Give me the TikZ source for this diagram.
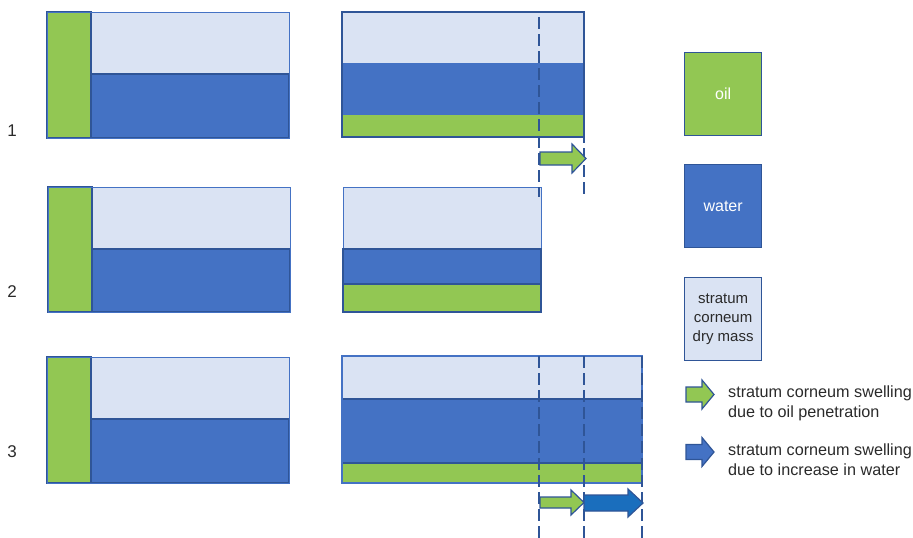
\documentclass[tikz,border=0pt]{standalone}
\usepackage{fontspec}
\setmainfont{Liberation Sans}
\definecolor{oilgreen}{HTML}{92C753}
\definecolor{waterblue}{HTML}{4472C4}
\definecolor{dryblue}{HTML}{DAE3F3}
\definecolor{edgeblue}{HTML}{2F5597}
\definecolor{brightblue}{HTML}{1A6EBD}
\definecolor{txtgray}{HTML}{2A2A2A}
\newcommand{\blockarrow}[8]{% name, x0, headbase, tip, yc, shafthalf, headhalf, color
  \draw[arrowline, fill=#8] (#2,#5-#6) -- (#3,#5-#6) -- (#3,#5-#7) -- (#4,#5) -- (#3,#5+#7) -- (#3,#5+#6) -- (#2,#5+#6) -- cycle;
  \coordinate (#1) at (#4,#5);}
\begin{document}
\begin{tikzpicture}[x=1pt,y=-1pt,
  blk/.style={draw=edgeblue, line width=1.3pt},
  oilblk/.style={blk, fill=oilgreen},
  waterblk/.style={blk, fill=waterblue},
  dryblk/.style={draw=waterblue, line width=1pt, fill=dryblue},
  dashline/.style={draw=edgeblue, line width=1.4pt, dash pattern=on 12pt off 5pt},
  arrowline/.style={draw=edgeblue, line width=1.2pt, line join=miter},
  num/.style={font=\fontsize{17}{20}\selectfont, text=txtgray},
  legbox/.style={draw=edgeblue, line width=1.3pt, minimum width=77pt, minimum height=83pt, inner sep=0pt, anchor=north west, align=center},
  legtext/.style={font=\fontsize{16.2}{20}\selectfont, text=txtgray, anchor=west, align=left, inner sep=0pt}
]
\useasboundingbox (0,0) rectangle (913,538);

% ---------- left panels ----------
% row 1
\draw[dryblk] (91,12) rectangle (289,74);
\draw[waterblk] (91,74) rectangle (289,138);
\draw[oilblk] (47,12) rectangle (91,138);
\draw[draw=waterblue, line width=1pt] (47,12) rectangle (289,138);
% row 2
\draw[dryblk] (92,187) rectangle (290,249);
\draw[waterblk] (92,249) rectangle (290,312);
\draw[oilblk] (48,187) rectangle (92,312);
\draw[draw=waterblue, line width=1pt] (48,187) rectangle (290,312);
% row 3
\draw[dryblk] (91,357) rectangle (289,419);
\draw[waterblk] (91,419) rectangle (289,483);
\draw[oilblk] (47,357) rectangle (91,483);
\draw[draw=waterblue, line width=1pt] (47,357) rectangle (289,483);

% ---------- numbers ----------
\node[num] (n1) at (12,131) {1};
\node[num] (n2) at (12,292) {2};
\node[num] (n3) at (12,452) {3};

% ---------- right panels ----------
% row 1
\fill[dryblue] (342,12) rectangle (584,63);
\fill[waterblue] (342,63) rectangle (584,115);
\fill[oilgreen] (342,115) rectangle (584,137);
\draw[blk] (342,12) rectangle (584,137);
% row 2
\draw[dryblk] (343,187) rectangle (541,249);
\draw[waterblk] (343,249) rectangle (541,284);
\draw[oilblk] (343,284) rectangle (541,312);
% row 3
\fill[dryblue] (342,356) rectangle (642,399);
\draw[waterblk] (342,399) rectangle (642,463);
\draw[oilblk] (342,463) rectangle (642,483);
\draw[draw=waterblue, line width=1.2pt] (342,356) rectangle (642,483);

% ---------- dashed guides ----------
\draw[dashline] (539,17) -- (539,197);
\draw[dashline] (584,12) -- (584,197);
\draw[dashline] (539,356) -- (539,538);
\draw[dashline] (584,356) -- (584,538);
\draw[dashline] (642,356) -- (642,538);

% ---------- swelling arrows ----------
\blockarrow{a1}{540}{572}{586}{158.5}{6.5}{14.5}{oilgreen}
\blockarrow{a3g}{540}{571}{584}{502.5}{5.5}{12.5}{oilgreen}
\blockarrow{a3b}{584}{628}{643}{503}{8}{14}{brightblue}

% ---------- legend ----------
\node[legbox, fill=oilgreen, text=white, font=\fontsize{16}{20}\selectfont] (oil) at (684,52) {oil};
\node[legbox, fill=waterblue, text=white, font=\fontsize{16}{20}\selectfont] (water) at (684,164) {water};
\node[legbox, fill=dryblue, text=txtgray, font=\fontsize{15}{19}\selectfont] (dry) at (684,277) {stratum\\corneum\\dry mass};

\blockarrow{lg}{686}{702}{714}{394.5}{7.5}{14.5}{oilgreen}
\blockarrow{lb}{686}{702}{714}{452}{7.5}{14.5}{waterblue}
\node[legtext] (tg) at (728,403) {stratum corneum swelling\\due to oil penetration};
\node[legtext] (tb) at (728,460) {stratum corneum swelling\\due to increase in water};
\end{tikzpicture}
\end{document}
